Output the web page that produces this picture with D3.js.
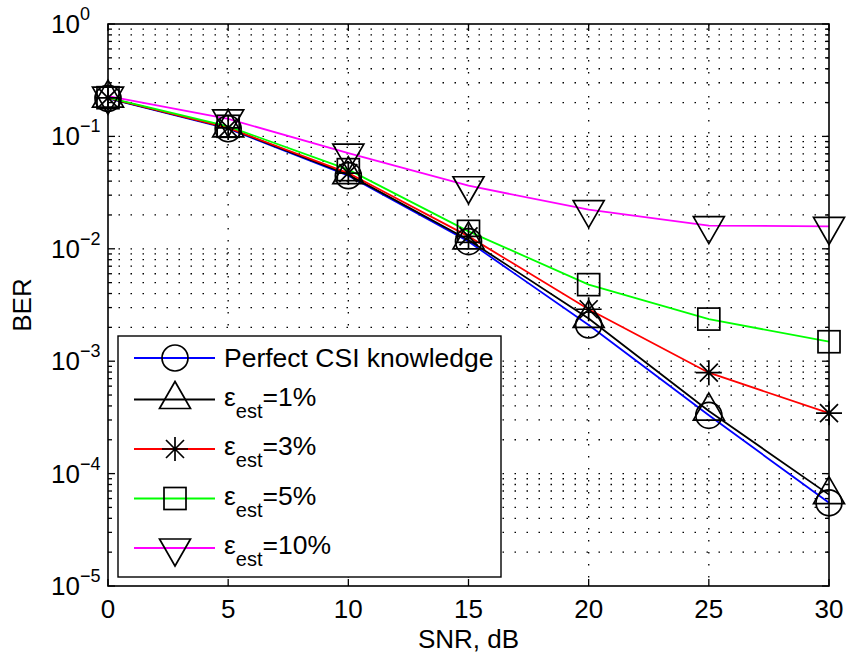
<!DOCTYPE html>
<html>
<head>
<meta charset="utf-8">
<script src="https://cdn.jsdelivr.net/npm/d3@7"></script>
<style>
  body { margin: 0; background: #fff; }
  text { font-family: "Liberation Sans", Arial, sans-serif; fill: #000; }
</style>
</head>
<body>
<svg id="chart"></svg>
<script>
// SNR points (dB)
var snr = [0, 5, 10, 15, 20, 25, 30];

// BER values
var berPerfect = [0.218, 0.117, 0.0447, 0.0116, 0.0021, 0.00033, 0.000055];
var berEst1 = [0.219, 0.119, 0.0457, 0.0120, 0.0024, 0.00036, 0.000065];
var berEst3 = [0.220, 0.119, 0.0472, 0.0129, 0.0029, 0.00079, 0.000345];
var berEst5 = [0.221, 0.123, 0.0506, 0.0143, 0.0048, 0.00237, 0.00149];
var berEst10 = [0.228, 0.143, 0.0711, 0.0364, 0.0223, 0.0161, 0.0158];

var xTicks = [0, 5, 10, 15, 20, 25, 30];
var yExponents = [0, -1, -2, -3, -4, -5];

var series = [
  { name: "Perfect CSI knowledge", pct: null, values: berPerfect, color: "#0000ff", marker: "circle" },
  { name: "est", pct: "=1%", values: berEst1, color: "#000000", marker: "triUp" },
  { name: "est", pct: "=3%", values: berEst3, color: "#ff0000", marker: "star" },
  { name: "est", pct: "=5%", values: berEst5, color: "#00ff00", marker: "square" },
  { name: "est", pct: "=10%", values: berEst10, color: "#ff00ff", marker: "triDown" }
];

var svgWidth = 847;
var svgHeight = 660;
var plotL = 108, plotR = 829, plotT = 24, plotB = 586;

var svg = d3.select("#chart")
  .attr("width", svgWidth)
  .attr("height", svgHeight);

var xScale = d3.scaleLinear().domain([0, 30]).range([plotL, plotR]);
var yScale = d3.scaleLog().domain([1e-5, 1]).range([plotB, plotT]);

// minor + major y grid values
var yGrid = [];
for (var e = -5; e < 0; e++) {
  for (var m = 1; m <= 9; m++) {
    yGrid.push(m * Math.pow(10, e));
  }
}

var grid = svg.append("g");
grid.selectAll("line.h")
  .data(yGrid.filter(function(d) { return d > 1e-5; }))
  .enter()
  .append("line")
  .attr("x1", plotL).attr("x2", plotR)
  .attr("y1", function(d) { return yScale(d); })
  .attr("y2", function(d) { return yScale(d); })
  .attr("stroke", "#000")
  .attr("stroke-width", 1.3)
  .attr("stroke-dasharray", "1.5,10.5")
  .attr("stroke-dashoffset", -10.5);

grid.selectAll("line.v")
  .data(xTicks.slice(1, -1))
  .enter()
  .append("line")
  .attr("x1", function(d) { return xScale(d); })
  .attr("x2", function(d) { return xScale(d); })
  .attr("y1", plotT).attr("y2", plotB)
  .attr("stroke", "#000")
  .attr("stroke-width", 1.3)
  .attr("stroke-dasharray", "1.5,10.5");

// ticks (inside, on all four sides)
var ticks = svg.append("g").attr("stroke", "#000").attr("stroke-width", 1.3);
xTicks.forEach(function(d) {
  ticks.append("line").attr("x1", xScale(d)).attr("x2", xScale(d))
    .attr("y1", plotB).attr("y2", plotB - 7);
  ticks.append("line").attr("x1", xScale(d)).attr("x2", xScale(d))
    .attr("y1", plotT).attr("y2", plotT + 7);
});
yGrid.concat([1]).forEach(function(d) {
  var major = Math.abs(Math.log10(d) - Math.round(Math.log10(d))) < 1e-9;
  var len = major ? 7 : 4;
  ticks.append("line").attr("x1", plotL).attr("x2", plotL + len)
    .attr("y1", yScale(d)).attr("y2", yScale(d));
  ticks.append("line").attr("x1", plotR).attr("x2", plotR - len)
    .attr("y1", yScale(d)).attr("y2", yScale(d));
});

// lines
var line = d3.line()
  .x(function(d, i) { return xScale(snr[i]); })
  .y(function(d) { return yScale(d); });

svg.selectAll("path.series")
  .data(series)
  .enter()
  .append("path")
  .attr("d", function(s) { return line(s.values); })
  .attr("fill", "none")
  .attr("stroke", function(s) { return s.color; })
  .attr("stroke-width", 1.8);

function drawMarker(g, type) {
  g.attr("fill", "none").attr("stroke", "#000").attr("stroke-width", 1.7);
  if (type === "circle") {
    g.append("circle").attr("r", 13);
  } else if (type === "triUp") {
    g.append("path").attr("d", "M0,-18L15.5,9L-15.5,9Z");
  } else if (type === "triDown") {
    g.append("path").attr("d", "M0,18L15.5,-9L-15.5,-9Z");
  } else if (type === "square") {
    g.append("rect").attr("x", -11).attr("y", -11).attr("width", 22).attr("height", 22);
  } else if (type === "star") {
    g.append("path").attr("d", "M-13,0L13,0M0,-12L0,12M-9,-9L9,9M-9,9L9,-9");
  }
}

series.forEach(function(s) {
  svg.append("g").selectAll("g")
    .data(s.values)
    .enter()
    .append("g")
    .attr("transform", function(d, i) {
      return "translate(" + xScale(snr[i]) + "," + yScale(d) + ")";
    })
    .each(function() { drawMarker(d3.select(this), s.marker); });
});

// axes box
svg.append("rect")
  .attr("x", plotL).attr("y", plotT)
  .attr("width", plotR - plotL).attr("height", plotB - plotT)
  .attr("fill", "none").attr("stroke", "#000").attr("stroke-width", 1.6);

// tick labels
svg.selectAll("text.xt")
  .data(xTicks)
  .enter()
  .append("text")
  .attr("x", function(d) { return xScale(d); })
  .attr("y", plotB + 32)
  .attr("text-anchor", "middle")
  .attr("font-size", 26)
  .text(function(d) { return d; });

yExponents.forEach(function(k) {
  var t = svg.append("text")
    .attr("x", 51)
    .attr("y", yScale(Math.pow(10, k)) + 9)
    .attr("font-size", 26);
  t.append("tspan").text("10");
  t.append("tspan").attr("dy", -13).attr("font-size", 18)
    .text(k === 0 ? "0" : "\u2212" + (-k));
});

// axis titles
svg.append("text")
  .attr("x", (plotL + plotR) / 2)
  .attr("y", 648)
  .attr("text-anchor", "middle")
  .attr("font-size", 26)
  .text("SNR, dB");

svg.append("text")
  .attr("transform", "translate(31," + ((plotT + plotB) / 2) + ") rotate(-90)")
  .attr("text-anchor", "middle")
  .attr("font-size", 26)
  .text("BER");

// legend
var legend = svg.append("g");
legend.append("rect")
  .attr("x", 118).attr("y", 336)
  .attr("width", 383).attr("height", 241)
  .attr("fill", "#fff").attr("stroke", "#000").attr("stroke-width", 1.4);

var rowY = [358, 399.5, 449, 498.5, 548];
series.forEach(function(s, i) {
  var row = legend.append("g").attr("transform", "translate(0," + rowY[i] + ")");
  row.append("line").attr("x1", 134).attr("x2", 215).attr("y1", 0).attr("y2", 0)
    .attr("stroke", s.color).attr("stroke-width", 1.8);
  drawMarker(row.append("g").attr("transform", "translate(175,0)"), s.marker);
  var t = row.append("text").attr("x", 224).attr("font-size", 26.5);
  if (s.pct === null) {
    t.attr("y", 9).text(s.name);
  } else {
    t.attr("y", 6);
    t.append("tspan").text("\u03b5");
    t.append("tspan").attr("dy", 12).attr("font-size", 20).text(s.name);
    t.append("tspan").attr("dy", -12).text(s.pct);
  }
});
</script>
</body>
</html>
